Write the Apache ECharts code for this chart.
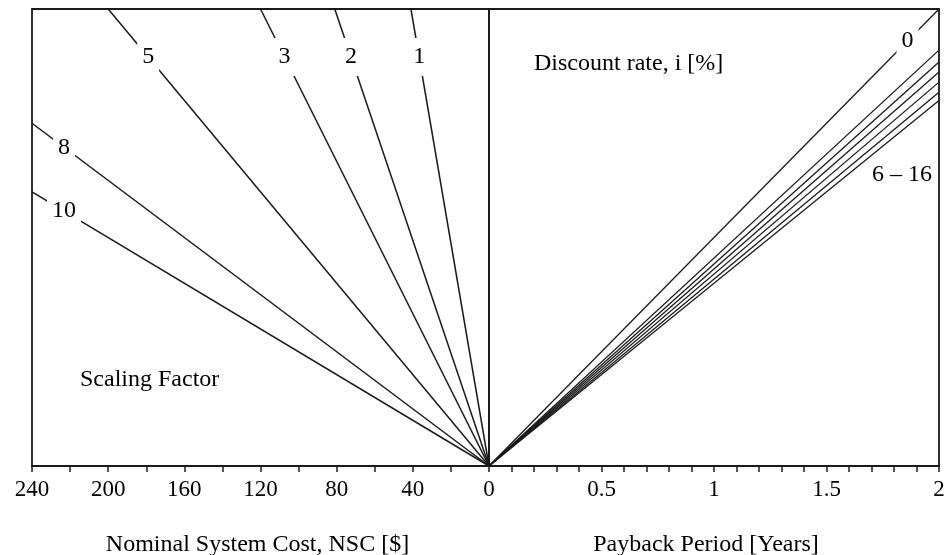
<!DOCTYPE html>
<html>
<head>
<meta charset="utf-8">
<script src="https://cdn.jsdelivr.net/npm/echarts@6/dist/echarts.min.js"></script>
<style>
  html, body { margin: 0; padding: 0; background: #fff; }
  #chart { width: 952px; height: 555px; }
</style>
</head>
<body>
<div id="chart"></div>
<script>
// 左侧：比例因子线 (NSC 与 纵向相对量)
const scalingFactors = ['1', '2', '3', '5', '8', '10'];
const sfEndNSC = [41, 81, 120, 200, 240, 240];
const sfEndY = [1, 1, 1, 1, 0.75, 0.60];

// 右侧：贴现率线 (回收期)
const discountRates = ['0', '6', '8', '10', '12', '14', '16'];
const rateEndYears = [2, 2, 2, 2, 2, 2, 2];
const rateEndY = [1, 0.910, 0.884, 0.862, 0.840, 0.818, 0.800];

// 刻度标签
const nscTickLabels = [240, 200, 160, 120, 80, 40, 0];
const yearTickLabels = [0.5, 1, 1.5, 2];

// 标签沿线的位置（比例）
const sfLabelAt = [0.895, 0.895, 0.895, 0.895, 0.93, 0.93];
const rateLabelAt = 0.93;

const FONT = "'Liberation Serif', 'Times New Roman', serif";
const INK = '#1a1a1a';
const TEXT = '#000';

function isTick(list, v) {
    return list.some(t => Math.abs(t - v) < 1e-6);
}

const series = [];

scalingFactors.forEach((sf, i) => {
    series.push({
        name: 'SF ' + sf,
        type: 'line',
        xAxisIndex: 0,
        yAxisIndex: 0,
        showSymbol: false,
        silent: true,
        lineStyle: { color: INK, width: 1.5 },
        data: [[0, 0], [sfEndNSC[i], sfEndY[i]]]
    });
});

discountRates.forEach((r, i) => {
    series.push({
        name: 'i ' + r,
        type: 'line',
        xAxisIndex: 1,
        yAxisIndex: 1,
        showSymbol: false,
        silent: true,
        lineStyle: { color: INK, width: 1.3 },
        data: [[0, 0], [rateEndYears[i], rateEndY[i]]]
    });
});

const lineLabel = {
    show: true,
    position: 'inside',
    formatter: p => p.name,
    color: TEXT,
    fontFamily: FONT,
    fontSize: 24,
    backgroundColor: '#fff',
    padding: [8, 5, 6, 5]
};

series.push({
    type: 'scatter',
    xAxisIndex: 0,
    yAxisIndex: 0,
    symbolSize: 0,
    silent: true,
    z: 5,
    itemStyle: { opacity: 1 },
    label: lineLabel,
    data: scalingFactors.map((sf, i) => ({
        name: sf,
        value: [sfEndNSC[i] * sfLabelAt[i], sfEndY[i] * sfLabelAt[i]]
    }))
});

series.push({
    type: 'scatter',
    xAxisIndex: 1,
    yAxisIndex: 1,
    symbolSize: 0,
    silent: true,
    z: 5,
    itemStyle: { opacity: 1 },
    label: lineLabel,
    data: [{
        name: discountRates[0],
        value: [rateEndYears[0] * rateLabelAt, rateEndY[0] * rateLabelAt]
    }]
});

const axisCommon = {
    type: 'value',
    axisLine: { show: true, lineStyle: { color: INK, width: 1.8 } },
    axisTick: { show: true, inside: false, length: 6, lineStyle: { color: INK, width: 1.5 } },
    splitLine: { show: false },
    axisLabel: { color: TEXT, fontFamily: FONT, fontSize: 23, margin: 12 },
    nameLocation: 'middle',
    nameGap: 67,
    nameTextStyle: { color: TEXT, fontFamily: FONT, fontSize: 24 }
};

const chart = echarts.init(document.getElementById('chart'));

const option = {
    animation: false,
    backgroundColor: '#fff',
    grid: [
        { left: 32, top: 9, width: 457, height: 457, outerBoundsMode: 'none', containLabel: false, show: true, borderColor: INK, borderWidth: 1.8, backgroundColor: 'transparent' },
        { left: 489, top: 9, width: 450, height: 457, outerBoundsMode: 'none', containLabel: false, show: true, borderColor: INK, borderWidth: 1.8, backgroundColor: 'transparent' }
    ],
    xAxis: [
        Object.assign({}, axisCommon, {
            gridIndex: 0,
            min: 0,
            max: 240,
            interval: 20,
            inverse: true,
            name: 'Nominal System Cost, NSC [$]',
            nameTextStyle: Object.assign({}, axisCommon.nameTextStyle, { padding: [0, 6, 0, 0] }),
            axisLabel: Object.assign({}, axisCommon.axisLabel, {
                formatter: v => isTick(nscTickLabels, v) ? String(v) : ''
            })
        }),
        Object.assign({}, axisCommon, {
            gridIndex: 1,
            min: 0,
            max: 2,
            interval: 0.1,
            name: 'Payback Period [Years]',
            nameTextStyle: Object.assign({}, axisCommon.nameTextStyle, { padding: [0, 16, 0, 0] }),
            axisLabel: Object.assign({}, axisCommon.axisLabel, {
                formatter: v => isTick(yearTickLabels, v) ? String(Math.round(v * 10) / 10) : ''
            })
        })
    ],
    yAxis: [
        { type: 'value', gridIndex: 0, min: 0, max: 1, show: false },
        { type: 'value', gridIndex: 1, min: 0, max: 1, show: false }
    ],
    graphic: [
        {
            type: 'text', left: 534, top: 52, silent: true,
            style: { text: 'Discount rate, i [%]', fill: TEXT, font: '24px ' + FONT }
        },
        {
            type: 'text', left: 80, top: 368, silent: true,
            style: { text: 'Scaling Factor', fill: TEXT, font: '24px ' + FONT }
        },
        {
            type: 'text', left: 872, top: 163, silent: true,
            style: { text: '6 \u2013 16', fill: TEXT, font: '24px ' + FONT }
        }
    ],
    series: series
};

chart.setOption(option);
</script>
</body>
</html>
